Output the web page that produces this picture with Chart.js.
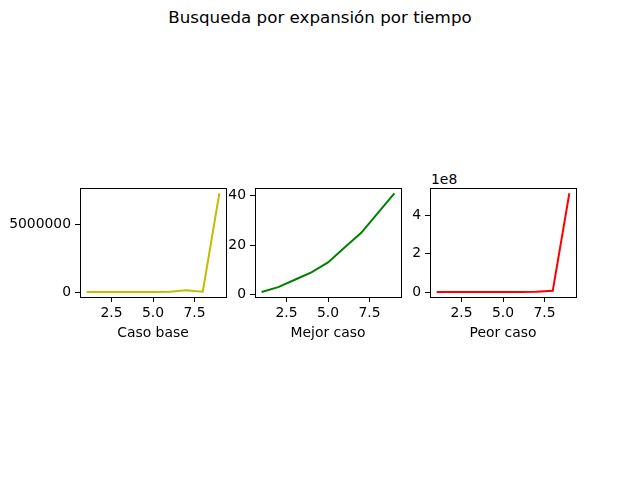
<!DOCTYPE html>
<html>
<head>
<meta charset="utf-8">
<script src="https://cdn.jsdelivr.net/npm/chart.js@4/dist/chart.umd.min.js"></script>
<style>
  html, body { margin:0; padding:0; background:#fff; }
  #wrap { position:relative; width:640px; height:480px; overflow:hidden; font-family:"DejaVu Sans", sans-serif; }
  canvas { position:absolute; }
  .txt { position:absolute; color:#000; white-space:nowrap; font-family:"DejaVu Sans", sans-serif; }
</style>
</head>
<body>
<div id="wrap">
  <div class="txt" id="title" style="left:0;width:640px;text-align:center;top:7px;font-size:16.7px;">Busqueda por expansión por tiempo</div>
  <div class="txt" id="offset" style="left:431px;top:171px;font-size:13.9px;">1e8</div>
  <canvas id="c1"></canvas>
  <canvas id="c2"></canvas>
  <canvas id="c3"></canvas>
</div>
<script>
// ---- data ----
const casos = [1, 2, 3, 4, 5, 6, 7, 8, 9];
const casoBase = [5, 30, 200, 1500, 8000, 30000, 130000, 30000, 7350000];
const mejorCaso = [1, 3, 6, 9, 13, 19, 25, 33, 41];
const peorCaso = [10, 100, 1000, 10000, 100000, 400000, 1700000, 7000000, 515000000];
const xTicks = [2.5, 5.0, 7.5];
const yTicksBase = [0, 5000000];
const yTicksMejor = [0, 20, 40];
const yTicksPeor = [0, 200000000, 400000000];
const xLabels = ['Caso base', 'Mejor caso', 'Peor caso'];

const FONT = { family: 'DejaVu Sans', size: 13.9 };

const frame = {
  id: 'frame',
  afterDraw(chart) {
    const a = chart.chartArea, ctx = chart.ctx;
    ctx.save();
    ctx.strokeStyle = '#000';
    ctx.lineWidth = 1;
    ctx.strokeRect(Math.round(a.left) + 0.5, Math.round(a.top) + 0.5, Math.round(a.right - a.left), Math.round(a.bottom - a.top));
    ctx.restore();
  }
};

function range(vals) {
  const mn = Math.min(...vals), mx = Math.max(...vals);
  const m = (mx - mn) * 0.05;
  return [mn - m, mx + m];
}

function makeChart(id, L, T, W, H, values, color, yTicks, yFmt, xLabel) {
  const yW = 75, topPad = 12, rightPad = 10, xH = 45;
  const cv = document.getElementById(id);
  cv.width = yW + W + rightPad;
  cv.height = topPad + H + xH;
  cv.style.left = (L - yW) + 'px';
  cv.style.top = (T - topPad) + 'px';
  const xr = range(casos), yr = range(values);
  new Chart(cv, {
    type: 'line',
    data: {
      datasets: [{
        data: casos.map((x, i) => ({ x: x, y: values[i] })),
        borderColor: color,
        borderWidth: 2,
        pointRadius: 0,
        tension: 0,
        fill: false
      }]
    },
    options: {
      responsive: false,
      animation: false,
      devicePixelRatio: 1,
      layout: { padding: { left: 0, top: topPad, right: rightPad, bottom: 0 } },
      plugins: { legend: { display: false }, tooltip: { enabled: false } },
      scales: {
        x: {
          type: 'linear', min: xr[0], max: xr[1],
          afterBuildTicks: s => { s.ticks = xTicks.map(v => ({ value: v })); },
          afterFit: s => { s.height = xH; },
          grid: { drawOnChartArea: false, drawTicks: true, tickLength: 5, color: '#000', lineWidth: 1 },
          border: { display: false },
          ticks: { font: FONT, color: '#000', padding: 3, maxRotation: 0, autoSkip: false,
                   callback: v => Number(v).toFixed(1) },
          title: { display: true, text: xLabel, font: FONT, color: '#000', padding: 0 }
        },
        y: {
          type: 'linear', min: yr[0], max: yr[1],
          afterBuildTicks: s => { s.ticks = yTicks.map(v => ({ value: v })); },
          afterFit: s => { s.width = yW; },
          grid: { drawOnChartArea: false, drawTicks: true, tickLength: 5, color: '#000', lineWidth: 1 },
          border: { display: false },
          ticks: { font: FONT, color: '#000', padding: 4, autoSkip: false, callback: yFmt }
        }
      }
    },
    plugins: [frame]
  });
}

makeChart('c1', 80, 188, 146, 109, casoBase, '#bfbf00', yTicksBase, v => String(v), xLabels[0]);
makeChart('c2', 255, 188, 146, 109, mejorCaso, '#008000', yTicksMejor, v => String(v), xLabels[1]);
makeChart('c3', 430, 188, 146, 109, peorCaso, '#ff0000', yTicksPeor, v => String(v / 1e8), xLabels[2]);
</script>
</body>
</html>
